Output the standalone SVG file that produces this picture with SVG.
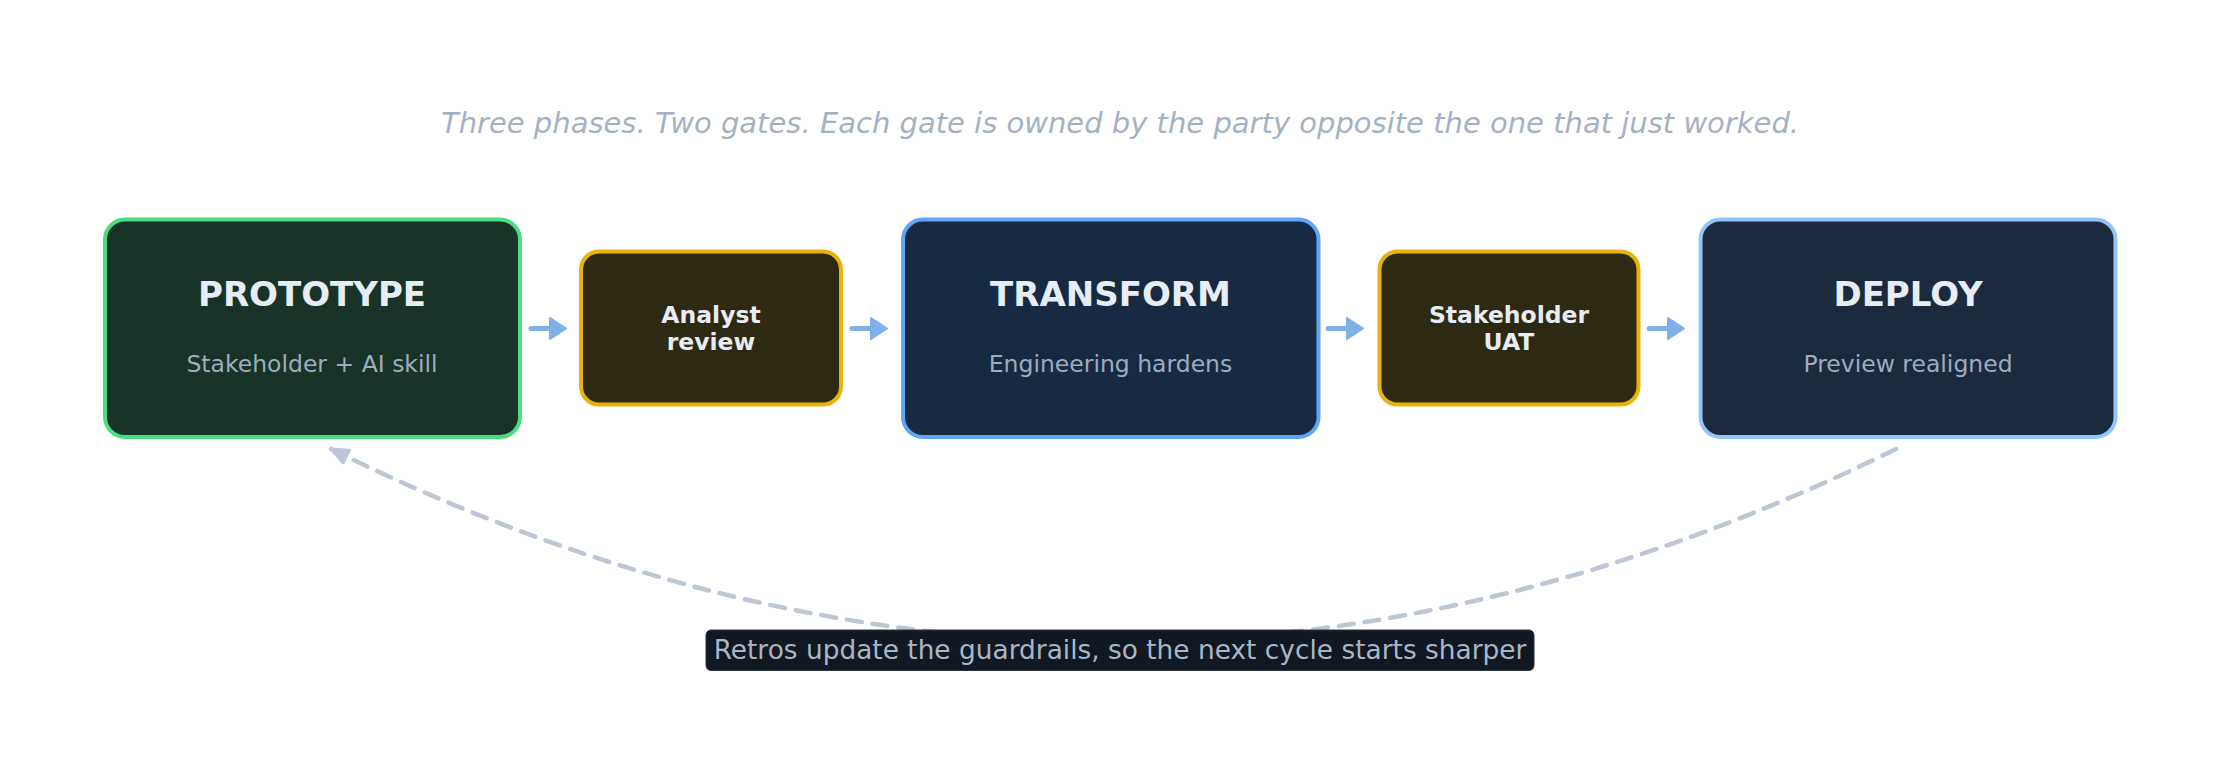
<svg xmlns="http://www.w3.org/2000/svg" width="2240" height="759" viewBox="0 0 2240 759">
  <style>
    .title { font-family: "DejaVu Sans", sans-serif; font-weight: bold; font-size: 34px; fill: #e8edf5; text-anchor: middle; }
    .sub { font-family: "DejaVu Sans", sans-serif; font-size: 23.5px; fill: #9eacbe; text-anchor: middle; }
    .gate { font-family: "DejaVu Sans", sans-serif; font-weight: bold; font-size: 23.5px; fill: #e8edf5; text-anchor: middle; }
    .phase { stroke-width: 4; }
    .gatebox { fill: #2e2912; stroke: #eab308; stroke-width: 4; }
    .flow { stroke: #7fb1e8; stroke-width: 5; stroke-linecap: round; fill: none; }
    .head { fill: #7fb1e8; stroke: #7fb1e8; stroke-width: 2; stroke-linejoin: round; }
    .retro { stroke: #bcc6d4; stroke-width: 4.5; fill: none; stroke-dasharray: 15 11; stroke-linecap: round; }
  </style>
  <defs>
    <marker id="retroHead" markerUnits="userSpaceOnUse" markerWidth="24" markerHeight="24" refX="20" refY="10" viewBox="0 0 24 20" orient="auto">
      <path d="M3,3 L20,10 L3,17 Z" fill="#bcc6d4" stroke="#bcc6d4" stroke-width="3" stroke-linejoin="round"/>
    </marker>
  </defs>
  <rect width="2240" height="759" fill="#ffffff"/>

  <text x="1120" y="133" font-family="DejaVu Sans, sans-serif" font-style="italic" font-size="29" fill="#a5b1c3" text-anchor="middle">Three phases. Two gates. Each gate is owned by the party opposite the one that just worked.</text>

  <g id="connectors">
    <path class="flow" d="M531,328.5 H552"/>
    <path class="head" d="M550,318 L566,328.5 L550,339 Z"/>
    <path class="flow" d="M852,328.5 H873"/>
    <path class="head" d="M871,318 L887,328.5 L871,339 Z"/>
    <path class="flow" d="M1328,328.5 H1349"/>
    <path class="head" d="M1347,318 L1363,328.5 L1347,339 Z"/>
    <path class="flow" d="M1649,328.5 H1670"/>
    <path class="head" d="M1668,318 L1684,328.5 L1668,339 Z"/>
    <path id="retro-loop" class="retro" d="M1896,449 Q1113,835 331,449" marker-end="url(#retroHead)"/>
  </g>

  <g id="node-prototype">
    <rect class="phase" x="105" y="219.5" width="415" height="217.5" rx="20" fill="#193328" stroke="#4ade80"/>
    <text class="title" x="312" y="306">PROTOTYPE</text>
    <text class="sub" x="312" y="372">Stakeholder + AI skill</text>
  </g>

  <g id="node-analyst-review">
    <rect class="gatebox" x="581" y="251.5" width="260" height="153" rx="18"/>
    <text class="gate" x="711" y="323">Analyst</text>
    <text class="gate" x="711" y="349.5">review</text>
  </g>

  <g id="node-transform">
    <rect class="phase" x="903" y="219.5" width="415.5" height="217.5" rx="20" fill="#172a42" stroke="#60a5fa"/>
    <text class="title" x="1110.5" y="306">TRANSFORM</text>
    <text class="sub" x="1110.5" y="372">Engineering hardens</text>
  </g>

  <g id="node-stakeholder-uat">
    <rect class="gatebox" x="1379.5" y="251.5" width="259" height="153" rx="18"/>
    <text class="gate" x="1509" y="323">Stakeholder</text>
    <text class="gate" x="1509" y="349.5">UAT</text>
  </g>

  <g id="node-deploy">
    <rect class="phase" x="1700.5" y="219.5" width="415" height="217.5" rx="20" fill="#1c2a3e" stroke="#93c5fd"/>
    <text class="title" x="1908" y="306">DEPLOY</text>
    <text class="sub" x="1908" y="372">Preview realigned</text>
  </g>

  <g id="label-retro">
    <rect x="706" y="630" width="828" height="40.5" rx="5" fill="#111821" stroke="#2c3440" stroke-width="1"/>
    <text x="1120" y="659" font-family="DejaVu Sans, sans-serif" font-size="26.4" fill="#a9b6c6" text-anchor="middle">Retros update the guardrails, so the next cycle starts sharper</text>
  </g>
</svg>
